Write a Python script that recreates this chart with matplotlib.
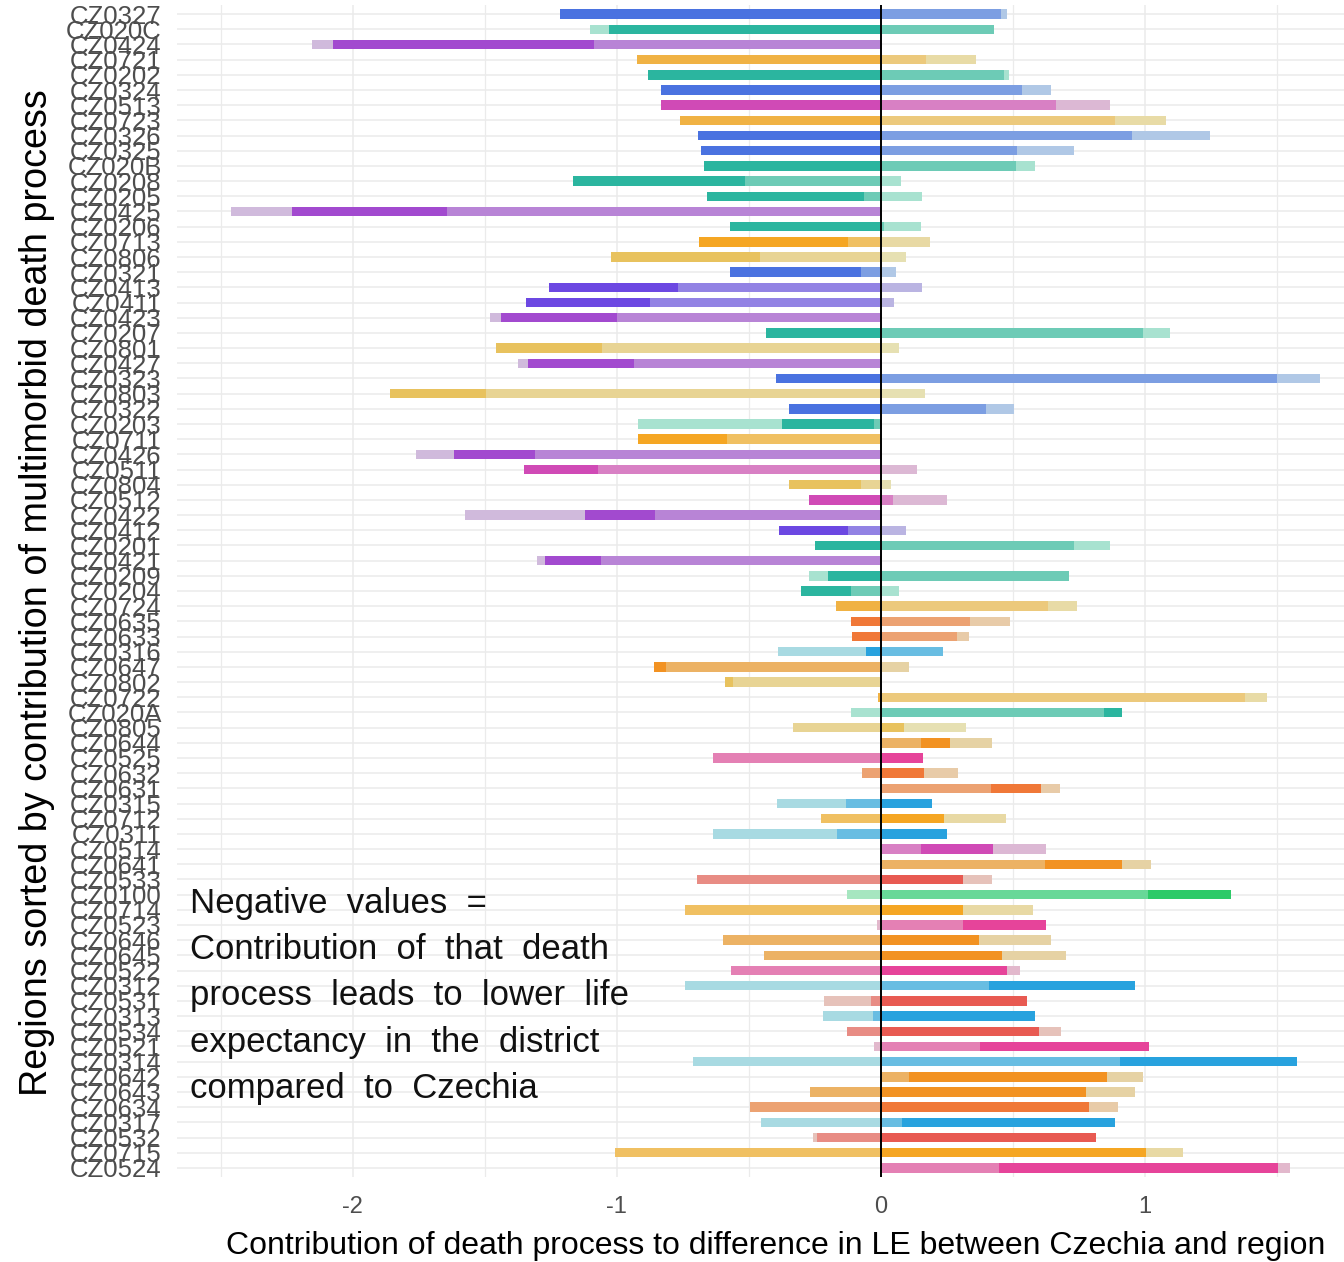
import numpy as np
import matplotlib.pyplot as plt

plt.rcParams['font.family'] = ['Liberation Sans', 'DejaVu Sans']
plt.rcParams['axes.unicode_minus'] = False

# ------------------------------------------------------------------
# Data: regions sorted by the multimorbid death process contribution
# ------------------------------------------------------------------
regions = [
    "CZ0327", "CZ020C", "CZ0424", "CZ0721", "CZ0202", "CZ0324", "CZ0513",
    "CZ0723", "CZ0326", "CZ0325", "CZ020B", "CZ0208", "CZ0205", "CZ0425",
    "CZ0206", "CZ0713", "CZ0806", "CZ0321", "CZ0413", "CZ0411", "CZ0423",
    "CZ0207", "CZ0801", "CZ0427", "CZ0323", "CZ0803", "CZ0322", "CZ0203",
    "CZ0711", "CZ0426", "CZ0511", "CZ0804", "CZ0512", "CZ0422", "CZ0412",
    "CZ0201", "CZ0421", "CZ0209", "CZ0204", "CZ0724", "CZ0635", "CZ0633",
    "CZ0316", "CZ0647", "CZ0802", "CZ0722", "CZ020A", "CZ0805", "CZ0644",
    "CZ0525", "CZ0632", "CZ0631", "CZ0315", "CZ0712", "CZ0311", "CZ0514",
    "CZ0641", "CZ0533", "CZ0100", "CZ0714", "CZ0523", "CZ0646", "CZ0645",
    "CZ0522", "CZ0312", "CZ0531", "CZ0313", "CZ0534", "CZ0521", "CZ0314",
    "CZ0642", "CZ0643", "CZ0634", "CZ0317", "CZ0532", "CZ0715", "CZ0524",
]

# second death process (drawn next to zero)
proc_other = [
    0.456, 0.429, -1.085, 0.172, 0.467, 0.535, 0.665,
    0.888, 0.951, 0.518, 0.511, -0.513, -0.063, -1.643,
    0.013, -0.124, -0.459, -0.074, -0.768, -0.874, -0.999,
    0.994, -1.054, -0.936, 1.501, -1.494, 0.399, -0.025,
    -0.582, -1.308, -1.072, -0.074, 0.047, -0.855, -0.124,
    0.734, -1.061, 0.715, -0.114, 0.635, 0.337, 0.288,
    0.237, -0.814, -0.559, 1.379, 0.846, -0.331, 0.152,
    -0.635, -0.071, 0.418, -0.133, -0.226, -0.164, 0.152,
    0.622, -0.697, 1.011, -0.740, 0.313, -0.597, -0.443,
    -0.566, 0.410, -0.035, -0.028, -0.126, 0.375, 0.907,
    0.107, -0.269, -0.497, 0.082, -0.240, -1.006, 0.448,
]

# multimorbid death process (sorting variable)
proc_multimorbid = [
    -1.215, -1.029, -0.991, -0.924, -0.880, -0.831, -0.831,
    -0.761, -0.694, -0.682, -0.668, -0.653, -0.594, -0.589,
    -0.570, -0.565, -0.563, -0.496, -0.489, -0.471, -0.439,
    -0.434, -0.402, -0.402, -0.398, -0.366, -0.349, -0.347,
    -0.336, -0.309, -0.279, -0.273, -0.273, -0.267, -0.261,
    -0.247, -0.210, -0.198, -0.187, -0.170, -0.114, -0.107,
    -0.057, -0.043, -0.032, -0.010, 0.067, 0.088, 0.111,
    0.159, 0.163, 0.190, 0.194, 0.240, 0.250, 0.272,
    0.292, 0.313, 0.317, 0.313, 0.315, 0.374, 0.461,
    0.480, 0.553, 0.554, 0.585, 0.598, 0.643, 0.669,
    0.752, 0.777, 0.789, 0.806, 0.814, 1.006, 1.058,
]

# third death process (outermost)
proc_third = [
    0.023, -0.074, -0.080, 0.189, 0.019, 0.111, 0.204,
    0.192, 0.296, 0.216, 0.072, 0.076, 0.157, -0.228,
    0.139, 0.188, 0.095, 0.057, 0.157, 0.052, -0.043,
    0.104, 0.071, -0.037, 0.162, 0.169, 0.105, -0.549,
    0.000, -0.142, 0.139, 0.040, 0.203, -0.451, 0.096,
    0.135, -0.031, -0.075, 0.071, 0.110, 0.154, 0.048,
    -0.331, 0.107, 0.000, 0.085, -0.114, 0.237, 0.160,
    0.000, 0.130, 0.073, -0.261, 0.233, -0.471, 0.204,
    0.110, 0.110, -0.126, 0.265, -0.015, 0.272, 0.241,
    0.049, -0.740, -0.178, -0.192, 0.085, -0.025, -0.710,
    0.133, 0.186, 0.111, -0.455, -0.015, 0.140, 0.045,
]

# colour per NUTS3 region: (multimorbid, other, third)
palette = {
    "CZ010": ("#2dca68", "#68d898", "#a6e6c0"),
    "CZ020": ("#2bb59f", "#6dcbb6", "#a8e2d0"),
    "CZ031": ("#28a2de", "#68bde2", "#a8dae2"),
    "CZ032": ("#4a72e0", "#7c9ee2", "#b0c8e6"),
    "CZ041": ("#6c48e2", "#9282e4", "#bab4e2"),
    "CZ042": ("#a24acf", "#b884d6", "#d0badc"),
    "CZ051": ("#d04ab6", "#d880c4", "#dcb8d4"),
    "CZ052": ("#e6449a", "#e480b4", "#e2b8cc"),
    "CZ053": ("#e85a52", "#e88c84", "#e6c2ba"),
    "CZ063": ("#f07838", "#eca272", "#e8cba8"),
    "CZ064": ("#f29222", "#ecb264", "#e6d2a4"),
    "CZ071": ("#f5a623", "#f0c062", "#e8d9a4"),
    "CZ072": ("#f0b244", "#ecc97c", "#e8dba6"),
    "CZ080": ("#e8c25e", "#e8d494", "#e6e0b2"),
}

y = np.arange(len(regions))
groups = [r[:5] for r in regions]

fig = plt.figure(figsize=(13.44, 12.62), dpi=100)
W, H = 1344, 1262
ax = fig.add_axes([177 / W, 1 - 1177 / H, 1197 / W, 1172 / H])

# stacking order from zero outward: other, multimorbid, third
series = [
    (np.array(proc_other), 1),
    (np.array(proc_multimorbid), 0),
    (np.array(proc_third), 2),
]
pos_base = np.zeros(len(regions))
neg_base = np.zeros(len(regions))
for vals, shade in series:
    cols = [palette[g][shade] for g in groups]
    left = np.where(vals >= 0, pos_base, neg_base)
    ax.barh(y, vals, left=left, height=0.62, color=cols, linewidth=0, zorder=2)
    pos_base = pos_base + np.clip(vals, 0, None)
    neg_base = neg_base + np.clip(vals, None, 0)

ax.axvline(0, color="black", linewidth=1.4, zorder=3)

ax.set_xlim(-2.666, 1.869)
ax.set_ylim(len(regions) - 0.4, -0.6)
ax.set_yticks(y)
ax.set_yticklabels(regions)
ax.set_xticks([-2, -1, 0, 1])
ax.set_xticks([-2.5, -1.5, -0.5, 0.5, 1.5], minor=True)

ax.grid(True, which="major", color="#ebebeb", linewidth=1.1, zorder=0)
ax.grid(True, which="minor", axis="x", color="#ebebeb", linewidth=0.9, zorder=0)
ax.set_axisbelow(True)
for s in ax.spines.values():
    s.set_visible(False)

ax.tick_params(axis="y", which="both", length=0, pad=11, labelsize=18.5,
               labelcolor="#4d4d4d")
ax.tick_params(axis="x", which="both", length=0, pad=14, labelsize=17,
               labelcolor="#4d4d4d")

ax.set_xlabel("Contribution of death process to difference in LE between Czechia and region",
              fontsize=23, labelpad=9)
fig.text(37 / W, 1 - 593 / H,
         "Regions sorted by contribution of multimorbid death process",
         rotation=90, ha="center", va="center", fontsize=27.2)

fig.text(190 / W, 1 - 996 / H,
         "Negative  values  =\nContribution  of  that  death\nprocess  leads  to  lower  life\n"
         "expectancy  in  the  district\ncompared  to  Czechia",
         ha="left", va="center", fontsize=25, linespacing=1.51, color="#111111")

fig.savefig("out.png", dpi=100)
